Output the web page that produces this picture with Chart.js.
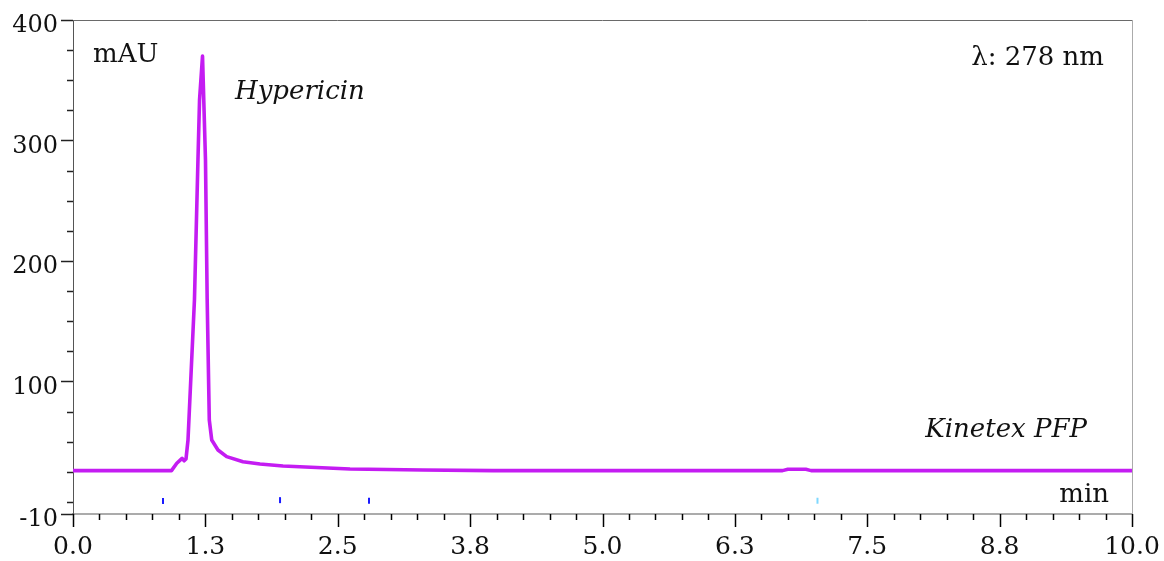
<!DOCTYPE html>
<html>
<head>
<meta charset="utf-8">
<script src="https://cdn.jsdelivr.net/npm/chart.js@4/dist/chart.umd.min.js"></script>
<style>
  html, body { margin: 0; padding: 0; background: #ffffff; }
  #wrap { width: 1164px; height: 561px; position: relative; }
</style>
</head>
<body>
<div id="wrap"><canvas id="c" width="1164" height="561"></canvas></div>
<script>
// Chromatogram trace: retention time (min) and absorbance (mAU)
const timeMin = [
  0.00, 0.50, 0.93, 0.98, 1.03, 1.05, 1.067, 1.086, 1.147, 1.180, 1.195, 1.223,
  1.251, 1.267, 1.287, 1.310, 1.369, 1.451, 1.605, 1.766, 1.983, 2.616,
  3.305, 3.966, 5.00, 6.00, 6.70, 6.75, 6.92, 6.97, 8.00, 9.00, 10.00
];
const signalMAU = [
  26.0, 26.0, 26.0, 32.1, 36.2, 34.2, 35.6, 51.4, 168.0, 284.0, 334.0, 370.0,
  284.0, 168.0, 68.0, 51.4, 43.1, 37.6, 33.4, 31.5, 29.8, 27.4,
  26.5, 26.0, 26.0, 26.0, 26.0, 27.1, 27.1, 26.0, 26.0, 26.0, 26.0
];

// Integration event markers below the baseline
const markTimes = [0.85, 1.955, 2.795, 7.03];
const markLevels = [0.8, 1.5, 1.0, 1.0];
const markColors = ['#1a1aff', '#1a1aff', '#1a1aff', '#7fd8ff'];

// Axis ticks and labels
const xMajorTicks = [0, 1.25, 2.5, 3.75, 5, 6.25, 7.5, 8.75, 10];
const xTickLabels = ['0.0', '1.3', '2.5', '3.8', '5.0', '6.3', '7.5', '8.8', '10.0'];
const yMajorTicks = [-10, 100, 200, 300, 400];
const yTickLabels = ['-10', '100', '200', '300', '400'];

const xMinorStep = 0.25;
const yMinorStep = 25;

const xTickValues = [];
for (let i = 0; i <= 40; i++) xTickValues.push(+(i * xMinorStep).toFixed(2));
const yTickValues = [-10];
for (let v = 0; v <= 400; v += yMinorStep) yTickValues.push(v);

const FONT = "'DejaVu Serif', serif";
const TRACE = '#c41cf2';

const isMajor = (arr, v) => arr.some(m => Math.abs(m - v) < 1e-6);

// Tick marks of two lengths, top/right frame and text annotations
const decor = {
  id: 'decor',
  afterDraw(chart) {
    const { ctx, chartArea: a, scales: { x, y } } = chart;
    ctx.save();
    // frame
    ctx.lineWidth = 1;
    ctx.strokeStyle = '#6a6a6a';
    ctx.beginPath();
    ctx.moveTo(a.left, a.top + 0.5);
    ctx.lineTo(a.right, a.top + 0.5);
    ctx.stroke();
    ctx.strokeStyle = '#ababab';
    ctx.beginPath();
    ctx.moveTo(a.right + 0.5, a.top);
    ctx.lineTo(a.right + 0.5, a.bottom);
    ctx.stroke();

    // x ticks
    ctx.strokeStyle = '#000000';
    ctx.lineWidth = 1.5;
    xTickValues.forEach(v => {
      const px = Math.round(x.getPixelForValue(v)) + 0.5;
      const len = isMajor(xMajorTicks, v) ? 13 : 6;
      ctx.beginPath();
      ctx.moveTo(px, a.bottom);
      ctx.lineTo(px, a.bottom + len);
      ctx.stroke();
    });
    // y ticks
    ctx.strokeStyle = '#222222';
    yTickValues.forEach(v => {
      const py = Math.round(y.getPixelForValue(v)) + 0.5;
      const len = isMajor(yMajorTicks, v) ? 12 : 6;
      ctx.beginPath();
      ctx.moveTo(a.left - len, py);
      ctx.lineTo(a.left, py);
      ctx.stroke();
    });

    // annotations
    ctx.fillStyle = '#111111';
    ctx.textBaseline = 'alphabetic';
    ctx.font = `26px ${FONT}`;
    ctx.textAlign = 'left';
    ctx.fillText('mAU', a.left + 20, 62);
    ctx.textAlign = 'right';
    ctx.fillText('λ: 278 nm', 1104, 65);
    ctx.fillText('min', 1109, 502);
    ctx.font = `italic 26px ${FONT}`;
    ctx.fillText('Kinetex PFP', 1087, 437);
    ctx.textAlign = 'left';
    ctx.fillText('Hypericin', 235, 99);
    ctx.restore();
  }
};

new Chart(document.getElementById('c'), {
  type: 'line',
  data: {
    datasets: [
      {
        label: 'Absorbance',
        data: timeMin.map((t, i) => ({ x: t, y: signalMAU[i] })),
        borderColor: TRACE,
        borderWidth: 3.6,
        borderJoinStyle: 'round',
        borderCapStyle: 'round',
        pointRadius: 0,
        tension: 0,
        fill: false
      },
      {
        label: 'Events',
        data: markTimes.map((t, i) => ({ x: t, y: markLevels[i] })),
        showLine: false,
        pointStyle: 'line',
        rotation: 90,
        pointRadius: 3,
        borderWidth: 2,
        borderColor: markColors,
        backgroundColor: markColors
      }
    ]
  },
  options: {
    responsive: false,
    animation: false,
    devicePixelRatio: 1,
    layout: { padding: { top: 20, right: 32, left: 0, bottom: 0 } },
    plugins: { legend: { display: false }, tooltip: { enabled: false } },
    scales: {
      x: {
        type: 'linear',
        min: 0,
        max: 10,
        afterBuildTicks: sc => { sc.ticks = xTickValues.map(v => ({ value: v })); },
        afterFit: sc => {
          sc.height = 47;
          sc.paddingLeft = 0;
          sc.paddingRight = 0;
        },
        grid: { display: true, drawOnChartArea: false, drawTicks: false },
        border: { display: true, color: '#ababab', width: 2 },
        ticks: {
          autoSkip: false,
          maxRotation: 0,
          padding: 18,
          color: '#111111',
          font: { family: FONT, size: 25 },
          callback: v => {
            const i = xMajorTicks.findIndex(m => Math.abs(m - v) < 1e-6);
            return i >= 0 ? xTickLabels[i] : '';
          }
        }
      },
      y: {
        type: 'linear',
        min: -10,
        max: 400,
        afterBuildTicks: sc => { sc.ticks = yTickValues.map(v => ({ value: v })); },
        afterFit: sc => {
          sc.width = 73;
          sc.paddingTop = 0;
          sc.paddingBottom = 0;
        },
        grid: { display: true, drawOnChartArea: false, drawTicks: false },
        border: { display: true, color: '#555555', width: 1 },
        ticks: {
          autoSkip: false,
          padding: 15,
          labelOffset: 6,
          color: '#111111',
          font: { family: FONT, size: 24 },
          callback: v => {
            const i = yMajorTicks.findIndex(m => Math.abs(m - v) < 1e-6);
            return i >= 0 ? yTickLabels[i] : '';
          }
        }
      }
    }
  },
  plugins: [decor]
});
</script>
</body>
</html>
